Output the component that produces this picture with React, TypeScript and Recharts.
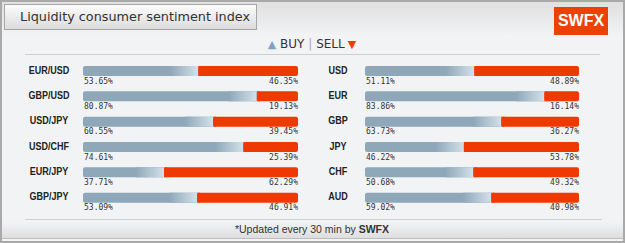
import { BarChart, Bar, XAxis, YAxis, LabelList } from 'recharts'

const leftPairs = ['EUR/USD', 'GBP/USD', 'USD/JPY', 'USD/CHF', 'EUR/JPY', 'GBP/JPY']
const leftBuy = [53.65, 80.87, 60.55, 74.61, 37.71, 53.09]
const leftSell = [46.35, 19.13, 39.45, 25.39, 62.29, 46.91]

const rightCurrencies = ['USD', 'EUR', 'GBP', 'JPY', 'CHF', 'AUD']
const rightBuy = [51.11, 83.86, 63.73, 46.22, 50.68, 59.02]
const rightSell = [48.89, 16.14, 36.27, 53.78, 49.32, 40.98]

const BUY = '#8fa8b9'
const BUY_LIGHT = '#d3e1e9'
const SELL = '#ee3a00'

const leftData = leftPairs.map((name, i) => ({ name, buy: leftBuy[i], sell: leftSell[i] }))
const rightData = rightCurrencies.map((name, i) => ({ name, buy: rightBuy[i], sell: rightSell[i] }))

function BuyShape(props: any) {
  const { x, y, width, height } = props
  const fade = Math.min(28, width)
  return (
    <g>
      <rect x={x} y={y} width={width} height={height} rx={2} fill={BUY} />
      <rect x={x + width - 3} y={y} width={3} height={height} fill={BUY} />
      <rect x={x + width - fade} y={y} width={fade} height={height} fill="url(#buyFade)" />
    </g>
  )
}

function SellShape(props: any) {
  const { x, y, width, height } = props
  return (
    <g>
      <rect x={x} y={y} width={width} height={height} rx={2} fill={SELL} />
      <rect x={x} y={y} width={3} height={height} fill={SELL} />
    </g>
  )
}

const pctStyle = { fontFamily: 'DejaVu Sans Mono', fontSize: 8, fill: '#333' }

function BuyPct(props: any) {
  const { x, y, height, value } = props
  return (
    <text x={x + 1} y={y + height + 5} dominantBaseline="middle" style={pctStyle}>
      {value.toFixed(2)}%
    </text>
  )
}

function SellPct(props: any) {
  const { x, y, width, height, value } = props
  return (
    <text x={x + width} y={y + height + 5} textAnchor="end" dominantBaseline="middle" style={pctStyle}>
      {value.toFixed(2)}%
    </text>
  )
}

function makeTick(cx: number) {
  return (props: any) => (
    <text
      transform={`translate(${cx},${props.y}) scale(0.82,1)`}
      x={0}
      y={0}
      textAnchor="middle"
      dominantBaseline="middle"
      style={{ fontFamily: 'Liberation Sans', fontWeight: 'bold', fontSize: 11, fill: '#222' }}
    >
      {props.payload.value}
    </text>
  )
}

function Column({ data, axisWidth, right, labelX }: any) {
  return (
    <BarChart
      width={310}
      height={243}
      data={data}
      layout="vertical"
      margin={{ top: 58, bottom: 33, left: 0, right }}
      barSize={10}
    >
      <defs>
        <linearGradient id="buyFade" x1="0" y1="0" x2="1" y2="0">
          <stop offset="0%" stopColor={BUY} />
          <stop offset="100%" stopColor={BUY_LIGHT} />
        </linearGradient>
      </defs>
      <XAxis type="number" domain={[0, 100]} hide />
      <YAxis
        type="category"
        dataKey="name"
        width={axisWidth}
        axisLine={false}
        tickLine={false}
        tick={makeTick(labelX)}
      />
      <Bar dataKey="buy" stackId="s" shape={BuyShape} isAnimationActive={false}>
        <LabelList dataKey="buy" content={BuyPct} />
      </Bar>
      <Bar dataKey="sell" stackId="s" shape={SellShape} isAnimationActive={false}>
        <LabelList dataKey="sell" content={SellPct} />
      </Bar>
    </BarChart>
  )
}

export default function App() {
  return (
    <div
      style={{
        position: 'absolute',
        left: 0,
        top: 0,
        width: 625,
        height: 243,
        background: '#f2f3f5',
        fontFamily: 'Liberation Sans, Arial, sans-serif',
        overflow: 'hidden',
      }}
    >
      <div
        style={{
          position: 'absolute',
          left: 2,
          top: 2,
          width: 621,
          height: 34,
          background: 'linear-gradient(#e0e0e0, #f2f3f5)',
        }}
      />
      <div
        style={{
          position: 'absolute',
          left: 4,
          top: 4,
          width: 253,
          height: 26,
          boxSizing: 'border-box',
          border: '1px solid #a6a6a6',
          background: 'linear-gradient(#fbfbfb, #dcdcdc)',
          fontFamily: 'DejaVu Sans',
          fontSize: 12.8,
          color: '#333',
          lineHeight: '24px',
          paddingLeft: 15,
          whiteSpace: 'nowrap',
        }}
      >
        Liquidity consumer sentiment index
      </div>
      <div
        style={{
          position: 'absolute',
          left: 554,
          top: 7,
          width: 54,
          height: 28,
          background: '#ee4100',
          color: '#fff',
          fontWeight: 'bold',
          fontSize: 16,
          lineHeight: '28px',
          textAlign: 'center',
        }}
      >
        SWFX
      </div>
      <div
        style={{
          position: 'absolute',
          left: 0,
          width: 624,
          top: 37,
          fontFamily: 'DejaVu Sans',
          fontSize: 12,
          color: '#333',
          textAlign: 'center',
          lineHeight: '15px',
        }}
      >
        <span style={{ color: '#7fa3bf', fontSize: 11 }}>▲</span> BUY <span style={{ color: '#aaa' }}>|</span> SELL
        <span style={{ color: SELL, fontSize: 11, marginLeft: 3 }}>▼</span>
      </div>
      <div style={{ position: 'absolute', left: 25, width: 575, top: 54, height: 1, background: '#cfcfcf' }} />
      <div style={{ position: 'absolute', left: 0, top: 0 }}>
        <Column data={leftData} axisWidth={83} right={12} labelX={49} />
      </div>
      <div style={{ position: 'absolute', left: 310, top: 0 }}>
        <Column data={rightData} axisWidth={55} right={41} labelX={28} />
      </div>
      <div style={{ position: 'absolute', left: 25, width: 577, top: 219, height: 1, background: '#cfcfcf' }} />
      <div
        style={{
          position: 'absolute',
          left: 2,
          width: 621,
          top: 222,
          height: 16,
          background: 'linear-gradient(#f2f3f5, #dedede)',
          borderBottom: '1px solid #bdbdbd',
        }}
      />
      <div
        style={{
          position: 'absolute',
          left: 0,
          width: 624,
          top: 222,
          fontSize: 10.5,
          color: '#333',
          textAlign: 'center',
          lineHeight: '15px',
        }}
      >
        *Updated every 30 min by <b>SWFX</b>
      </div>
      <div
        style={{
          position: 'absolute',
          inset: 0,
          border: '2px solid #a9a9a9',
          pointerEvents: 'none',
        }}
      />
    </div>
  )
}
